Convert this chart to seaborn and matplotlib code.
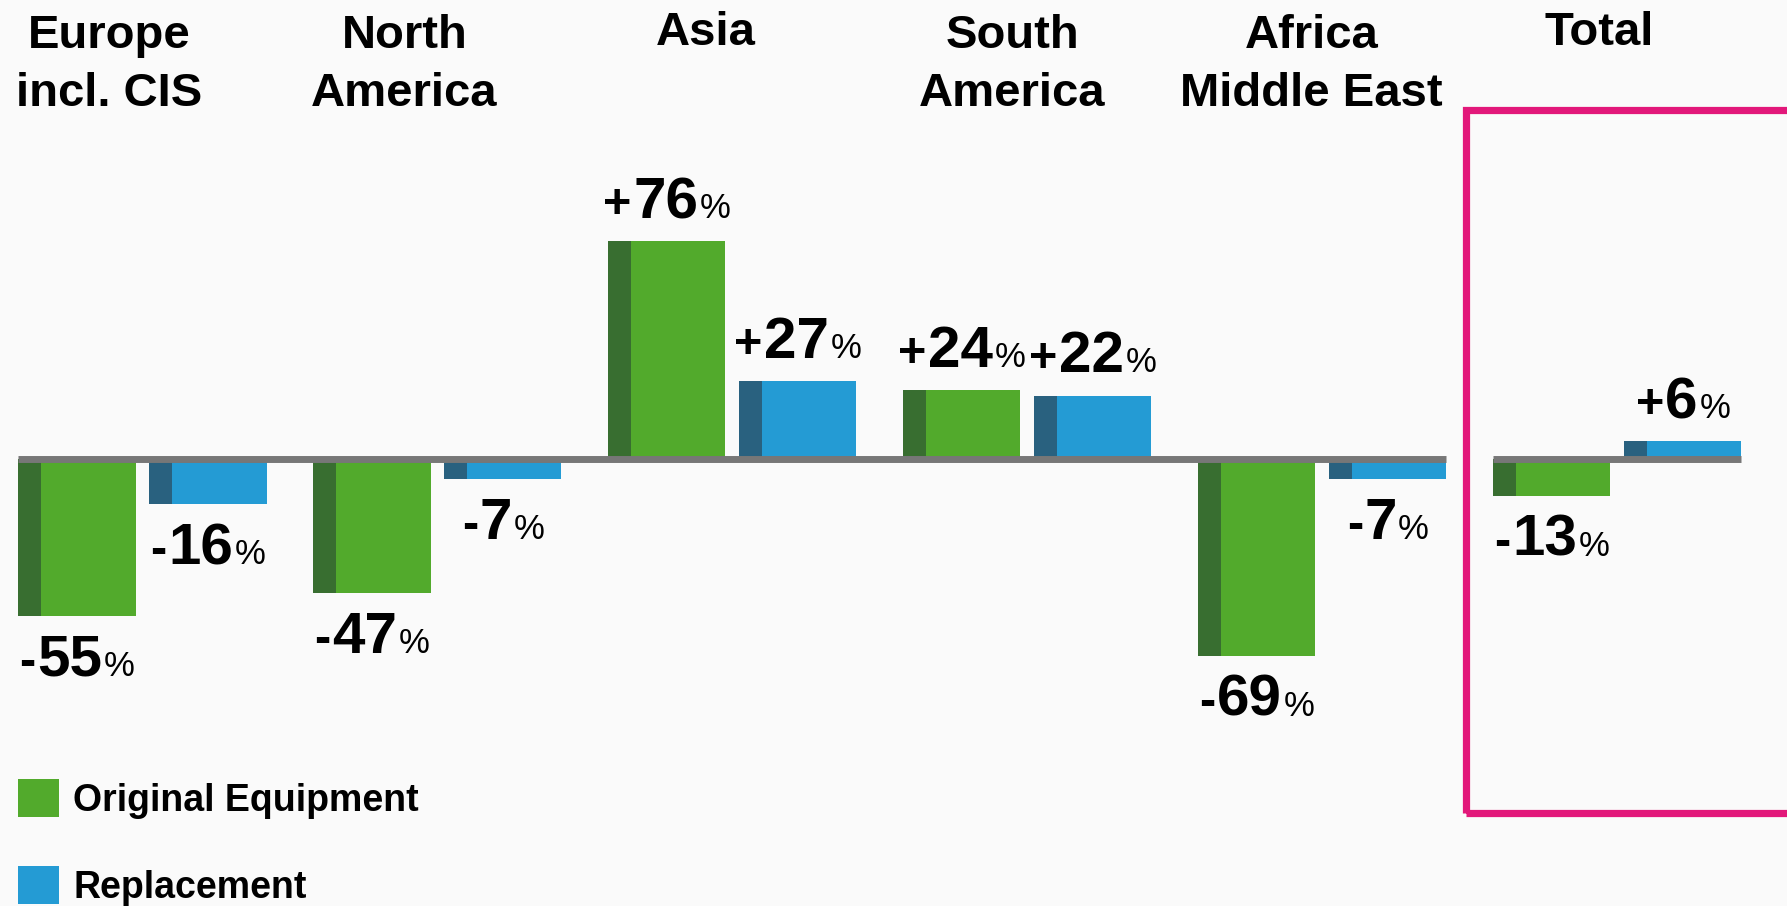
import matplotlib
matplotlib.use("Agg")
import matplotlib.pyplot as plt
from matplotlib import font_manager
from matplotlib.patches import Rectangle
from matplotlib.offsetbox import TextArea, HPacker, AnnotationBbox
import pandas as pd
import seaborn as sns

# Year-on-year change in tyre markets by region (%)
regions = ["Europe\nincl. CIS", "North\nAmerica", "Asia", "South\nAmerica",
           "Africa\nMiddle East", "Total"]
segments = ["Original Equipment", "Replacement"]
original_equipment = [-55, -47, 76, 24, -69, -13]
replacement = [-16, -7, 27, 22, -7, 6]

# Colours: front face and darker side face of each segment's bars
face_colors = {"Original Equipment": "#52AA2C", "Replacement": "#249BD4"}
side_colors = {"Original Equipment": "#386E30", "Replacement": "#29617F"}
BACKGROUND = "#FAFAFA"
AXIS_GREY = "#777777"
FRAME_PINK = "#E2187A"

# Horizontal nudges for the region headings (in category units)
heading_shift = [-0.112, -0.112, -0.09, -0.051, -0.036, -0.063]

df = pd.DataFrame({
    "region": regions * 2,
    "segment": [segments[0]] * len(regions) + [segments[1]] * len(regions),
    "change": original_equipment + replacement,
})

sns.set_style("white")
plt.rcParams["font.family"] = ["Liberation Sans", "DejaVu Sans"]
plt.rcParams["text.color"] = "black"


def has_font(name):
    try:
        font_manager.findfont(font_manager.FontProperties(family=name),
                              fallback_to_default=False)
        return True
    except Exception:
        return False


narrow = has_font("Liberation Sans Narrow")
legend_family = ["Liberation Sans Narrow"] if narrow else ["Liberation Sans"]
legend_size = 31 if narrow else 27
legend_px = legend_size * 100 / 72

W, H = 1787, 906
fig = plt.figure(figsize=(W / 100, H / 100), dpi=100, facecolor=BACKGROUND)
ax = fig.add_axes([0, 0, 1, 1])

sns.barplot(data=df, x="region", y="change", hue="segment", order=regions,
            hue_order=segments, palette=face_colors, saturation=1,
            width=0.888, gap=0.106, linewidth=0, ax=ax, zorder=2)

# Darker strip on the left of every bar to give a boxy look
light_to_dark = {matplotlib.colors.to_hex(face_colors[s]): side_colors[s] for s in segments}
bars = [p for p in ax.patches if isinstance(p, Rectangle) and p.get_width() > 0
        and matplotlib.colors.to_hex(p.get_facecolor()) in light_to_dark]
for p in bars:
    dark = light_to_dark[matplotlib.colors.to_hex(p.get_facecolor())]
    ax.add_patch(Rectangle((p.get_x(), p.get_y()), p.get_width() * 0.19, p.get_height(),
                           facecolor=dark, edgecolor="none", zorder=3))

# Value labels: sign, bold figure and a smaller percent sign on a common baseline
for p in bars:
    val = int(round(p.get_y() + p.get_height()))
    if val == 0:
        val = int(round(p.get_y()))
    sign = "+" if val > 0 else "-"
    parts = [
        TextArea(sign, textprops=dict(fontsize=35, fontweight="bold", color="black")),
        TextArea(str(abs(val)), textprops=dict(fontsize=42, fontweight="bold", color="black")),
        TextArea("%", textprops=dict(fontsize=25, color="black")),
    ]
    pack = HPacker(children=parts, align="baseline", pad=0, sep=1)
    xc = p.get_x() + p.get_width() / 2
    if val > 0:
        ab = AnnotationBbox(pack, (xc, val), xybox=(0, 8), boxcoords="offset points",
                            box_alignment=(0.5, 0), frameon=False, pad=0)
    else:
        ab = AnnotationBbox(pack, (xc, val), xybox=(0, -13), boxcoords="offset points",
                            box_alignment=(0.5, 1), frameon=False, pad=0)
    ax.add_artist(ab)

# Zero lines: one across the regions, one under the total
half = 0.222 + 0.1985
n_reg = len(regions) - 1
ax.plot([-half, n_reg - 1 + half], [0, 0], color=AXIS_GREY, lw=5, solid_capstyle="butt", zorder=4)
ax.plot([n_reg - half, n_reg + half], [0, 0], color=AXIS_GREY, lw=5, solid_capstyle="butt", zorder=4)

# Region headings
xtr = ax.get_xaxis_transform()
for i, (name, dx) in enumerate(zip(regions, heading_shift)):
    y_top = 1 - (14 if "\n" in name else 11) / H
    ax.text(i + dx, y_top, name, transform=xtr, ha="center", va="top", color="black",
            fontsize=34, fontweight="bold", linespacing=1.42, multialignment="center")

# Frame highlighting the total
ax.add_patch(Rectangle((1466 / W, 1 - 813 / H), 0.3, (813 - 110) / H, transform=ax.transAxes,
                       fill=False, edgecolor=FRAME_PINK, lw=5.2, zorder=5))

# Legend
handles, labels = ax.get_legend_handles_labels()
ax.legend(handles, labels, loc="upper left", bbox_to_anchor=(18 / W, 1 - 779 / H),
          bbox_transform=fig.transFigure, frameon=False, borderpad=0, borderaxespad=0,
          handlelength=41 / legend_px, handleheight=45 / legend_px,
          handletextpad=14 / legend_px, labelspacing=47 / legend_px,
          labelcolor="black",
          prop=dict(family=legend_family, weight="bold", size=legend_size))

ax.set_xlim(-0.483, 5.575)
ax.set_ylim(-(H - 458.5) / 2.86, 458.5 / 2.86)
ax.axis("off")

fig.savefig("out.png", dpi=100, facecolor=BACKGROUND)
